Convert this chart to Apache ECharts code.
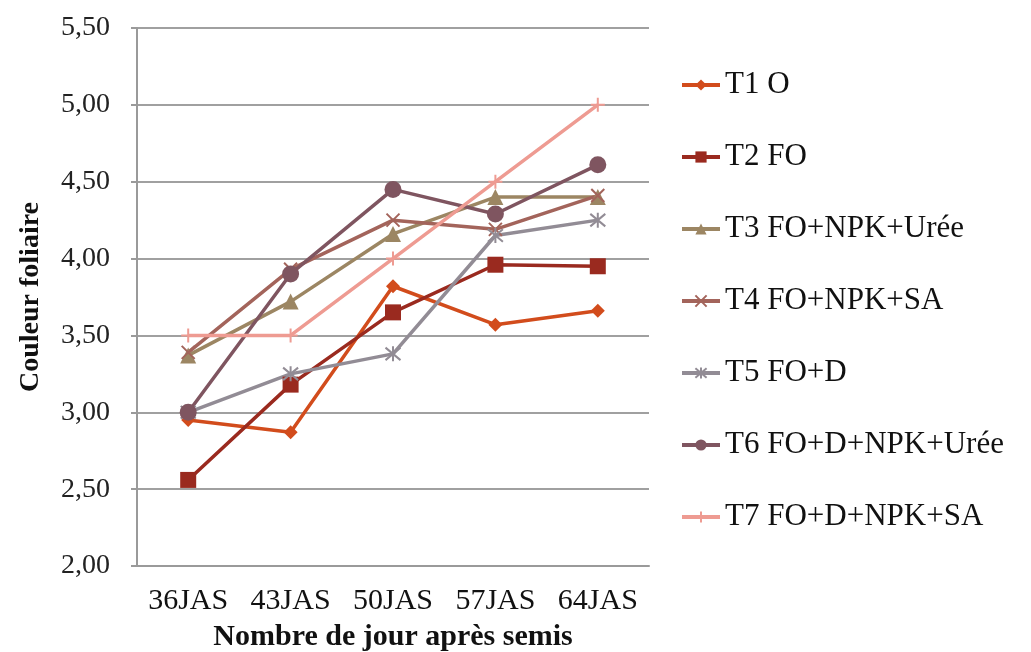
<!DOCTYPE html>
<html>
<head>
<meta charset="utf-8">
<script src="https://cdn.jsdelivr.net/npm/echarts@6/dist/echarts.min.js"></script>
<style>html,body{margin:0;padding:0;background:#fff;}#c{width:1031px;height:652px;}</style>
</head>
<body>
<div id="c"></div>
<script>
const categories = ['36JAS', '43JAS', '50JAS', '57JAS', '64JAS'];
const seriesNames = ['T1 O', 'T2 FO', 'T3 FO+NPK+Urée', 'T4 FO+NPK+SA', 'T5 FO+D', 'T6 FO+D+NPK+Urée', 'T7 FO+D+NPK+SA'];
const t1 = [2.95, 2.87, 3.82, 3.57, 3.66];
const t2 = [2.56, 3.18, 3.65, 3.96, 3.95];
const t3 = [3.37, 3.72, 4.16, 4.40, 4.40];
const t4 = [3.39, 3.93, 4.25, 4.19, 4.41];
const t5 = [3.00, 3.25, 3.38, 4.15, 4.25];
const t6 = [3.00, 3.90, 4.45, 4.29, 4.61];
const t7 = [3.50, 3.50, 4.00, 4.50, 5.00];
const seriesData = [t1, t2, t3, t4, t5, t6, t7];

const colors = ['#d24c1c', '#9a2a1f', '#9c8663', '#a3645b', '#928c95', '#7f5560', '#ee9b92'];
const symbols = [
  'diamond',
  'rect',
  'triangle',
  'path://M0,0L10,10M10,0L0,10',
  'path://M0,0L10,10M10,0L0,10M5,-1L5,11',
  'circle',
  'path://M5,0L5,10M0,5L10,5'
];
const symbolSizes = [14, 16, 16, 13, 15, 17, 14];

const font = '"Liberation Serif", "Times New Roman", serif';
const chart = echarts.init(document.getElementById('c'), null, {renderer: 'canvas'});
chart.setOption({
  animation: false,
  backgroundColor: '#fff',
  grid: {left: 137, right: 382, top: 28, bottom: 86, containLabel: false, outerBoundsMode: 'none'},
  legend: {
    orient: 'vertical',
    left: 675,
    top: 62,
    itemGap: 36,
    itemWidth: 38,
    itemHeight: 14,
    lineStyle: {width: 4},
    textStyle: {fontFamily: font, fontSize: 31, lineHeight: 36, color: '#111'},
    data: seriesNames
  },
  xAxis: {
    type: 'category',
    data: categories,
    boundaryGap: true,
    axisLine: {lineStyle: {color: '#9a9a9a', width: 2}},
    axisTick: {show: false},
    axisLabel: {fontFamily: font, fontSize: 30, color: '#111', margin: 20, interval: 0},
    name: 'Nombre de jour après semis',
    nameLocation: 'middle',
    nameGap: 56,
    nameTextStyle: {fontFamily: font, fontSize: 30, fontWeight: 'bold', color: '#111'}
  },
  yAxis: {
    type: 'value',
    min: 2, max: 5.5, interval: 0.5,
    axisLine: {show: true, lineStyle: {color: '#9a9a9a', width: 2}},
    axisTick: {show: true, length: 6, lineStyle: {color: '#9a9a9a', width: 2}},
    splitLine: {lineStyle: {color: '#a0a0a0', width: 2}},
    axisLabel: {fontFamily: font, fontSize: 28, color: '#222', margin: 27,
      formatter: v => v.toFixed(2).replace('.', ',')},
    name: 'Couleur foliaire',
    nameLocation: 'middle',
    nameGap: 92,
    nameTextStyle: {fontFamily: font, fontSize: 28, fontWeight: 'bold', color: '#111'}
  },
  series: seriesNames.map((n, i) => ({
    name: n,
    type: 'line',
    data: seriesData[i],
    symbol: symbols[i],
    symbolSize: symbolSizes[i],
    showAllSymbol: true,
    lineStyle: {color: colors[i], width: 3.5},
    itemStyle: {color: colors[i], borderColor: colors[i], borderWidth: (i === 3 || i === 4 || i === 6) ? 2 : 0}
  }))
});
</script>
</body>
</html>
